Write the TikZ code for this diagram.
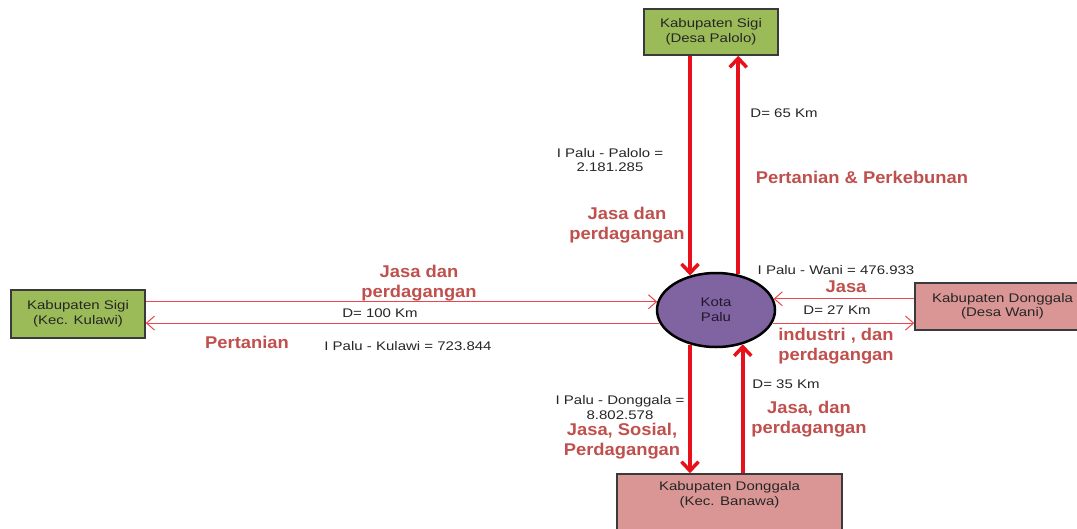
\documentclass[tikz,border=0pt]{standalone}
\usepackage{fontspec}
\setmainfont{Liberation Sans}[FakeStretch=1.2]
\newfontfamily\redfont{Liberation Sans}[FakeStretch=1.08]
\usetikzlibrary{shapes.geometric,arrows.meta}
\definecolor{boxgreen}{HTML}{9BBB59}
\definecolor{boxpink}{HTML}{D99694}
\definecolor{paluviolet}{HTML}{8064A2}
\definecolor{lblred}{HTML}{C0504D}
\definecolor{arrred}{HTML}{E8101A}
\definecolor{thinred}{HTML}{F0444C}
\definecolor{txtdark}{HTML}{262626}
\definecolor{boxedge}{HTML}{3A3A3A}
\begin{document}
\begin{tikzpicture}[x=1pt,y=-1pt,
  boxtxt/.style={font=\fontsize{12.5}{14.5}\selectfont, text=txtdark, align=center, inner sep=0pt},
  gbox/.style={draw=boxedge, line width=1.5pt, fill=boxgreen, boxtxt, inner sep=0pt},
  pbox/.style={draw=boxedge, line width=1.5pt, fill=boxpink, boxtxt, inner sep=0pt},
  blk/.style={font=\fontsize{12.5}{14.5}\selectfont, text=txtdark, align=center, inner sep=0pt},
  rlbl/.style={font=\redfont\bfseries\fontsize{17}{20}\selectfont, text=lblred, align=center, inner sep=0pt},
  thickarr/.style={draw=arrred, line width=3.5pt, -{Straight Barb[length=9pt,width=17pt,line width=3.5pt]}},
  thinarr/.style={draw=thinred, line width=1pt, -{Straight Barb[length=8pt,width=14pt,line width=1pt]}}
]
\clip (0,0) rectangle (1077,528);
\fill[white] (0,0) rectangle (1077,528);

% nodes
\node[gbox, minimum width=134pt, minimum height=46pt] (palolo) at (711,32) {Kabupaten Sigi\\(Desa Palolo)};
\node[gbox, minimum width=134pt, minimum height=48pt] (kulawi) at (78,314) {Kabupaten Sigi\\(Kec. Kulawi)};
\node[pbox, minimum width=175pt, minimum height=47pt] (wani) at (1002.5,306.5) {Kabupaten Donggala\\(Desa Wani)};
\node[pbox, minimum width=225pt, minimum height=66pt] (banawa) at (729.5,507) {};
\node[boxtxt, anchor=north] (banawatxt) at ([yshift=-8pt]banawa.north) {Kabupaten Donggala\\(Kec. Banawa)};
\node[ellipse, draw=black, line width=2.5pt, fill=paluviolet, minimum width=118pt, minimum height=74pt, inner sep=0pt,
      font=\fontsize{12.5}{14.5}\selectfont, text=black!75!paluviolet, align=center] (palu) at (716,310) {Kota\\Palu};

% thick vertical arrows
\draw[thickarr] (palolo.south -| palu.127) -- (palu.127);
\draw[thickarr] (palu.58) -- (palolo.south -| palu.58);
\draw[thickarr] (palu.233) -- (banawa.north -| palu.233);
\draw[thickarr] (banawa.north -| palu.308) -- (palu.308);

% thin horizontal arrows
\draw[thinarr] (kulawi.east |- palu.172) -- (palu.172);
\draw[thinarr] (palu.193) -- (kulawi.east |- palu.193);
\draw[thinarr] (wani.west |- palu.11) -- (palu.11);
\draw[thinarr] (palu.347) -- (wani.west |- palu.347);

% labels: top
\node[blk] (d65) at (784,113) {D= 65 Km};
\node[blk] (ipalolo) at (610,160) {I Palu - Palolo =\\2.181.285};
\node[rlbl] (pertperk) at (862,177) {Pertanian \& Perkebunan};
\node[rlbl] (jasatop) at (627,225.5) {Jasa dan\\perdagangan};

% labels: left
\node[rlbl] (jasaleft) at (419,283) {Jasa dan\\perdagangan};
\node[blk] (d100) at (380,313) {D= 100 Km};
\node[rlbl] (pertanian) at (247,342) {Pertanian};
\node[blk] (ikulawi) at (408,346) {I Palu - Kulawi = 723.844};

% labels: right
\node[blk] (iwani) at (836,270) {I Palu - Wani = 476.933};
\node[rlbl] (jasaright) at (846,287) {Jasa};
\node[blk] (d27) at (837,310) {D= 27 Km};
\node[rlbl] (industri) at (836,346.5) {industri , dan\\perdagangan};

% labels: bottom
\node[blk] (d35) at (786,384) {D= 35 Km};
\node[blk] (idonggala) at (620,407.5) {I Palu - Donggala =\\8.802.578};
\node[rlbl] (jasasosial) at (622,441) {Jasa, Sosial,\\Perdagangan};
\node[rlbl] (jasadan) at (809,419) {Jasa, dan\\perdagangan};
\end{tikzpicture}
\end{document}
